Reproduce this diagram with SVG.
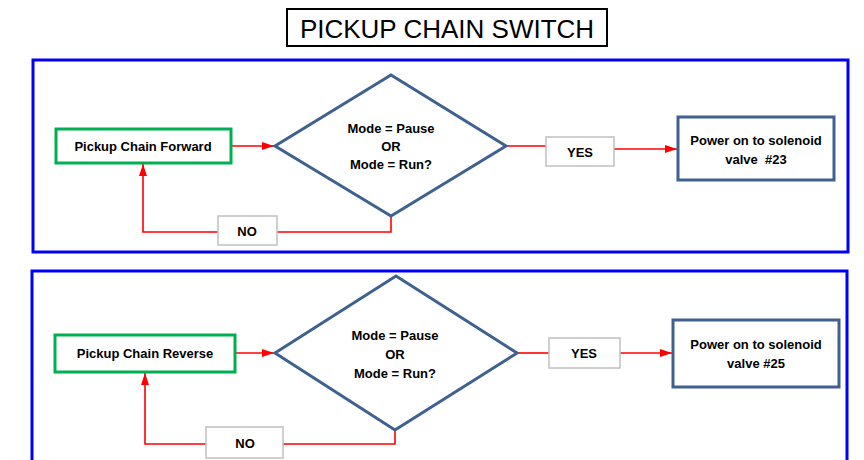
<svg xmlns="http://www.w3.org/2000/svg" width="864" height="460" viewBox="0 0 864 460">
<defs>
<style>
.panel{fill:none;stroke:#0000ff;stroke-width:3}
.start{fill:#ffffff;stroke:#00b050;stroke-width:3}
.dec{fill:#ffffff;stroke:#3e6190;stroke-width:3;stroke-linejoin:miter}
.act{fill:#ffffff;stroke:#3e6190;stroke-width:3}
.lbl{fill:#ffffff;stroke:#c0c0c0;stroke-width:1.5}
.t{font-family:"Liberation Sans",Arial,sans-serif;font-weight:bold;font-size:13px;fill:#000000;text-anchor:middle}
.ln{fill:none;stroke:#ff0000;stroke-width:1.6}
.title{font-family:"Liberation Sans",Arial,sans-serif;font-size:26px;fill:#000000;text-anchor:middle}
</style>
<marker id="ah" viewBox="0 0 12 8" refX="12" refY="4" markerWidth="12" markerHeight="8" markerUnits="userSpaceOnUse" orient="auto">
<path d="M0,0 L12,4 L0,8 Z" fill="#ff0000"/>
</marker>
</defs>
<rect width="864" height="460" fill="#ffffff"/>
<g id="title">
<rect x="287" y="9" width="320" height="37" fill="#ffffff" stroke="#000000" stroke-width="2"/>
<text class="title" x="447" y="38">PICKUP CHAIN SWITCH</text>
</g>
<g id="panel1"><rect class="panel" x="33" y="60" width="815" height="192"/></g>
<g id="panel2"><rect class="panel" x="32" y="271" width="815" height="200"/></g>
<g id="connectors">
<line class="ln" x1="231" y1="146" x2="274" y2="146" marker-end="url(#ah)"/>
<line class="ln" x1="506" y1="146" x2="546" y2="146"/>
<line class="ln" x1="614" y1="149" x2="677" y2="149" marker-end="url(#ah)"/>
<polyline class="ln" points="391,216 391,232 277,232"/>
<polyline class="ln" points="218,232 143,232 143,164" marker-end="url(#ah)"/>
<line class="ln" x1="235" y1="353" x2="274" y2="353" marker-end="url(#ah)"/>
<line class="ln" x1="517" y1="353" x2="549" y2="353"/>
<line class="ln" x1="620" y1="353" x2="672" y2="353" marker-end="url(#ah)"/>
<polyline class="ln" points="395,430 395,444 283,444"/>
<polyline class="ln" points="206,444 145,444 145,373" marker-end="url(#ah)"/>
</g>
<g id="fwd">
<rect class="start" x="56" y="129" width="175" height="34"/>
<text class="t" x="143" y="151">Pickup Chain Forward</text>
</g>
<g id="dec1">
<polygon class="dec" points="391,75 506,146 391,216 275,146"/>
<text class="t" x="391" y="133">Mode = Pause</text>
<text class="t" x="391" y="151">OR</text>
<text class="t" x="391" y="169">Mode = Run?</text>
</g>
<g id="yes1">
<rect class="lbl" x="546" y="137" width="68" height="29"/>
<text class="t" x="580" y="157">YES</text>
</g>
<g id="act1">
<rect class="act" x="678" y="117" width="156" height="63"/>
<text class="t" x="756" y="145">Power on to solenoid</text>
<text class="t" x="756" y="164" style="white-space:pre" xml:space="preserve">valve  #23</text>
</g>
<g id="no1">
<rect class="lbl" x="218" y="216" width="59" height="29"/>
<text class="t" x="247" y="236">NO</text>
</g>
<g id="rev">
<rect class="start" x="55" y="335" width="180" height="37"/>
<text class="t" x="145" y="358">Pickup Chain Reverse</text>
</g>
<g id="dec2">
<polygon class="dec" points="396,276 517,353 395,430 275,353"/>
<text class="t" x="395" y="340">Mode = Pause</text>
<text class="t" x="395" y="359">OR</text>
<text class="t" x="395" y="378">Mode = Run?</text>
</g>
<g id="yes2">
<rect class="lbl" x="549" y="338" width="71" height="30"/>
<text class="t" x="584" y="358">YES</text>
</g>
<g id="act2">
<rect class="act" x="673" y="320" width="166" height="67"/>
<text class="t" x="756" y="349">Power on to solenoid</text>
<text class="t" x="756" y="368">valve #25</text>
</g>
<g id="no2">
<rect class="lbl" x="206" y="427" width="77" height="31"/>
<text class="t" x="245" y="448">NO</text>
</g>
</svg>
